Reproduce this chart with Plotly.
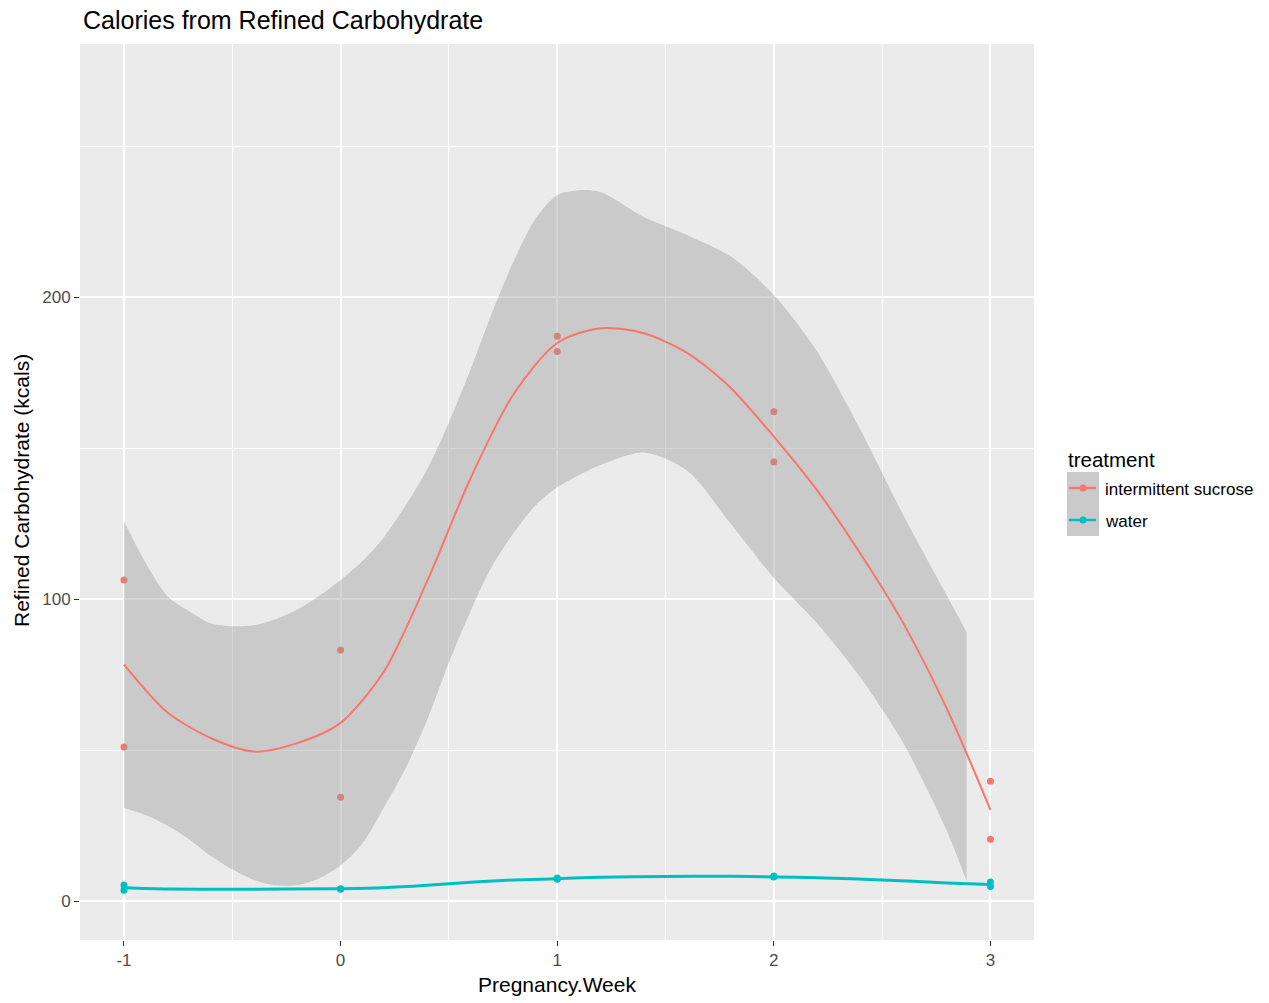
import plotly.graph_objects as go

# ---------------- data ----------------
weeks_pts = [-1, -1, 0, 0, 1, 1, 2, 2, 3, 3]
sucrose_pts = [106.3, 51.0, 83.1, 34.4, 187.0, 182.0, 162.0, 145.4, 39.7, 20.5]
water_pts = [5.3, 3.6, 4.1, 3.9, 7.2, 7.6, 8.0, 8.3, 6.3, 4.8]

# loess smooth for intermittent sucrose
suc_fit_x = [-1, -0.8, -0.6, -0.4, -0.2, 0, 0.2, 0.4, 0.6, 0.8, 1.0, 1.2, 1.4,
             1.6, 1.8, 2.0, 2.2, 2.4, 2.6, 2.8, 3.0]
suc_fit_y = [78.3, 62.5, 54.0, 49.5, 52.3, 59.0, 76.0, 106.0, 140.0, 168.0, 184.8,
             189.7, 188.0, 181.5, 170.0, 153.8, 136.0, 115.0, 91.7, 63.5, 30.2]

# confidence band for intermittent sucrose
band_x = [-1, -0.9, -0.8, -0.7, -0.6, -0.5, -0.4, -0.3, -0.2, -0.1, 0, 0.1, 0.2,
          0.3, 0.4, 0.5, 0.6, 0.7, 0.8, 0.9, 1.0, 1.1, 1.2, 1.4, 1.6, 1.8, 2.0,
          2.2, 2.4, 2.6, 2.8, 2.89]
band_upper = [125.8, 112.0, 101.0, 96.0, 92.0, 91.0, 91.3, 93.3, 96.5, 101.0, 106.3,
              112.5, 120.5, 131.0, 143.0, 158.5, 176.0, 195.0, 212.0, 226.0, 233.8,
              235.4, 234.8, 226.5, 220.5, 213.5, 200.7, 182.0, 156.0, 127.5, 101.0, 89.0]
band_lower = [30.8, 28.5, 25.0, 20.5, 15.0, 10.5, 7.0, 5.2, 5.3, 7.5, 11.8,
              19.0, 31.0, 44.0, 60.0, 79.0, 96.0, 111.0, 122.0, 131.0, 137.0,
              141.0, 144.4, 148.5, 142.5, 125.0, 107.0, 92.0, 74.0, 52.0, 23.0, 6.5]

# loess smooth for water
wat_fit_x = [-1, -0.8, -0.5, 0, 0.2, 0.4, 0.6, 0.8, 1.0, 1.2, 1.5, 1.8, 2.0,
             2.2, 2.5, 2.8, 3.0]
wat_fit_y = [4.4, 4.0, 3.9, 4.1, 4.4, 5.2, 6.2, 7.0, 7.4, 7.9, 8.1, 8.2, 8.0,
             7.7, 7.0, 6.0, 5.5]

x_ticks = [-1, 0, 1, 2, 3]
y_ticks = [0, 100, 200]
series_names = ["intermittent sucrose", "water"]

RED = "#F8766D"
CYAN = "#00BFC4"
FONT = "Liberation Sans, Arial, sans-serif"

# ---------------- figure ----------------
fig = go.Figure()

# points first (the band is drawn over them, as in ggplot)
fig.add_trace(go.Scatter(x=weeks_pts, y=sucrose_pts, mode="markers",
                         marker=dict(color=RED, size=7), showlegend=False))
fig.add_trace(go.Scatter(x=weeks_pts, y=water_pts, mode="markers",
                         marker=dict(color=CYAN, size=7), showlegend=False))

# confidence band
fig.add_trace(go.Scatter(x=band_x, y=band_lower, mode="lines",
                         line=dict(width=0, shape="spline", smoothing=0.8),
                         showlegend=False, hoverinfo="skip"))
fig.add_trace(go.Scatter(x=band_x, y=band_upper, mode="lines", fill="tonexty",
                         fillcolor="rgba(153,153,153,0.4)",
                         line=dict(width=0, shape="spline", smoothing=0.8),
                         showlegend=False, hoverinfo="skip"))

# smooth lines
fig.add_trace(go.Scatter(x=suc_fit_x, y=suc_fit_y, mode="lines",
                         line=dict(color=RED, width=2, shape="spline", smoothing=0.8),
                         showlegend=False))
fig.add_trace(go.Scatter(x=wat_fit_x, y=wat_fit_y, mode="lines",
                         line=dict(color=CYAN, width=3, shape="spline", smoothing=0.8),
                         showlegend=False))

# ---------------- layout ----------------
W, H = 1269, 1003
L, R, T, B = 80, 1034, 44, 940
PW, PH = R - L, B - T


def px_x(p):
    return (p - L) / PW


def px_y(p):
    return (B - p) / PH


axis_common = dict(
    showgrid=True, gridcolor="white", gridwidth=2,
    zeroline=False, showline=False,
    ticks="outside", ticklen=5, tickwidth=1, tickcolor="#333333",
    tickfont=dict(family=FONT, size=17, color="#4D4D4D"),
)

fig.update_layout(
    width=W, height=H,
    margin=dict(l=L, r=W - R, t=T, b=H - B, pad=0),
    paper_bgcolor="white", plot_bgcolor="#EBEBEB",
    showlegend=False,
    xaxis=dict(range=[-1.203, 3.201], tickvals=x_ticks,
               ticktext=[str(v) for v in x_ticks],
               minor=dict(dtick=0.5, tick0=-1, showgrid=True, gridcolor="white",
                          gridwidth=1, ticks=""),
               **axis_common),
    yaxis=dict(range=[-12.9, 283.8], tickvals=y_ticks,
               ticktext=[str(v) for v in y_ticks],
               minor=dict(dtick=50, tick0=0, showgrid=True, gridcolor="white",
                          gridwidth=1, ticks=""),
               **axis_common),
)

annotations = [
    dict(text="Calories from Refined Carbohydrate", x=px_x(81), y=px_y(20),
         xanchor="left", yanchor="middle",
         font=dict(family=FONT, size=25, color="black")),
    dict(text="Pregnancy.Week", x=px_x(557), y=px_y(985),
         xanchor="center", yanchor="middle",
         font=dict(family=FONT, size=21, color="black")),
    dict(text="Refined Carbohydrate (kcals)", x=px_x(21), y=px_y(491),
         xanchor="center", yanchor="middle", textangle=-90,
         font=dict(family=FONT, size=21, color="black")),
    dict(text="treatment", x=px_x(1066), y=px_y(459),
         xanchor="left", yanchor="middle",
         font=dict(family=FONT, size=20.5, color="black")),
]
shapes = []
key_top = 472
key_h = 32
for i, (name, col) in enumerate(zip(series_names, [RED, CYAN])):
    y0 = key_top + i * key_h
    yc = y0 + key_h / 2
    shapes.append(dict(type="rect", xref="paper", yref="paper",
                       x0=px_x(1067), x1=px_x(1099), y0=px_y(y0), y1=px_y(y0 + key_h),
                       fillcolor="#CACACA", line=dict(width=0), layer="above"))
    shapes.append(dict(type="line", xref="paper", yref="paper",
                       x0=px_x(1069), x1=px_x(1096), y0=px_y(yc), y1=px_y(yc),
                       line=dict(color=col, width=2.5), layer="above"))
    shapes.append(dict(type="circle", xref="paper", yref="paper",
                       x0=px_x(1079.5), x1=px_x(1086.5), y0=px_y(yc - 3.5), y1=px_y(yc + 3.5),
                       fillcolor=col, line=dict(width=0), layer="above"))
    annotations.append(dict(text=name, x=px_x(1103), y=px_y(yc + 1),
                            xanchor="left", yanchor="middle",
                            font=dict(family=FONT, size=17, color="black")))

for a in annotations:
    a.update(xref="paper", yref="paper", showarrow=False)

fig.update_layout(annotations=annotations, shapes=shapes)

# remove the default 8px page margin so the figure fills the window exactly
fig.write_html("out.html",
               config={"displayModeBar": False},
               post_script="document.body.style.margin='0px';"
                           "document.body.style.overflow='hidden';")
